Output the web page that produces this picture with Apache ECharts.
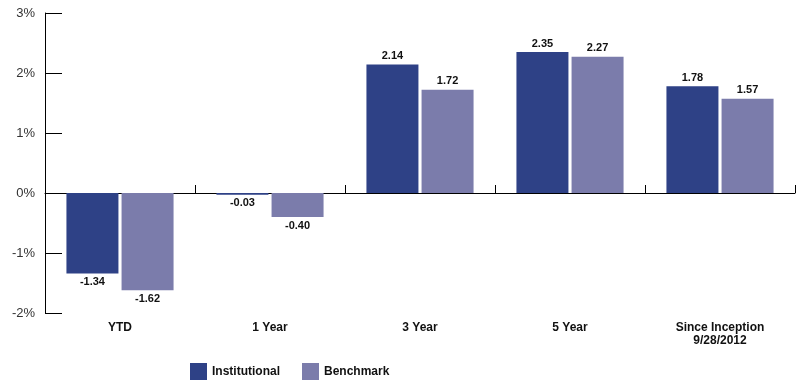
<!DOCTYPE html>
<html lang="en">
<head>
  <meta charset="utf-8">
  <title>Returns</title>
  <script src="https://cdn.jsdelivr.net/npm/echarts@6/dist/echarts.min.js"></script>
  <style>
    html, body { margin: 0; padding: 0; background: #fff; }
  </style>
</head>
<body>
  <div id="main" style="width:799px;height:381px;"></div>

<script type="text/javascript">
// periods along the x axis
var periods = ['YTD', '1 Year', '3 Year', '5 Year', 'Since Inception\n9/28/2012'];
// returns, in %
var institutional = [-1.34, -0.03, 2.14, 2.35, 1.78];
var benchmark = [-1.62, -0.40, 1.72, 2.27, 1.57];
var seriesNames = ['Institutional', 'Benchmark'];

// negative bars get their label underneath
function toItems(vals) {
    return vals.map(function (v) {
        return { value: v, label: { position: v < 0 ? 'bottom' : 'top' } };
    });
}

var myChart = echarts.init(document.getElementById('main'));

var labelStyle = {
    show: true,
    distance: 3,
    fontFamily: 'Liberation Sans',
    fontWeight: 'bold',
    fontSize: 11,
    color: '#111',
    formatter: function (p) { return p.value.toFixed(2); }
};

var option = {
    animation: false,
    grid: { left: 45, right: 4, top: 13, bottom: 68, containLabel: false, outerBoundsMode: 'none' },
    legend: {
        data: seriesNames,
        left: 185,
        top: 358,
        icon: 'rect',
        itemWidth: 17,
        itemHeight: 17,
        itemGap: 22,
        textStyle: { fontFamily: 'Liberation Sans', fontWeight: 'bold', fontSize: 12, color: '#111' }
    },
    xAxis: [
        {
            // labels along the bottom
            type: 'category',
            data: periods,
            position: 'bottom',
            axisLine: { show: false, onZero: false },
            axisTick: { show: false },
            axisLabel: {
                margin: 8,
                fontFamily: 'Liberation Sans',
                fontWeight: 'bold',
                fontSize: 12,
                lineHeight: 13,
                color: '#111'
            },
            splitLine: { show: false }
        },
        {
            // zero line with the small boundary ticks
            type: 'category',
            data: periods,
            position: 'top',
            axisLine: { show: true, onZero: true, lineStyle: { color: '#000', width: 1 } },
            axisTick: { show: true, inside: false, length: 8, lineStyle: { color: '#000' } },
            axisLabel: { show: false },
            splitLine: { show: false }
        }
    ],
    yAxis: {
        type: 'value',
        min: -2,
        max: 3,
        interval: 1,
        axisLine: { show: true, lineStyle: { color: '#000', width: 1 } },
        axisTick: { show: true, inside: true, length: 17, lineStyle: { color: '#000' } },
        axisLabel: {
            margin: 10,
            formatter: '{value}%',
            fontFamily: 'Liberation Sans',
            fontSize: 13,
            color: '#333'
        },
        splitLine: { show: false }
    },
    series: [
        {
            name: seriesNames[0],
            type: 'bar',
            data: toItems(institutional),
            barWidth: 52,
            barGap: '6%',
            itemStyle: { color: '#2e4186' },
            label: labelStyle
        },
        {
            name: seriesNames[1],
            type: 'bar',
            data: toItems(benchmark),
            barWidth: 52,
            barGap: '6%',
            itemStyle: { color: '#7b7cab' },
            label: labelStyle
        }
    ]
};

myChart.setOption(option);
</script>
</body>
</html>
